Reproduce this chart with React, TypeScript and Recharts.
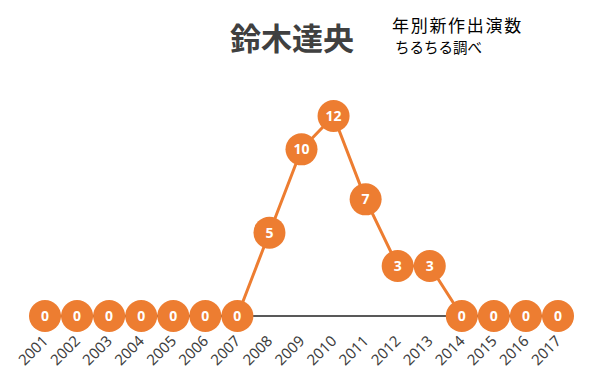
import React from 'react';
import { LineChart, Line, XAxis, YAxis } from 'recharts';

// 年別新作出演数 (ちるちる調べ)
const years = [
  '2001', '2002', '2003', '2004', '2005', '2006', '2007', '2008', '2009',
  '2010', '2011', '2012', '2013', '2014', '2015', '2016', '2017',
];
const counts = [0, 0, 0, 0, 0, 0, 0, 5, 10, 12, 7, 3, 3, 0, 0, 0, 0];

const ORANGE = '#ED7D31';
const FONT = '"Noto Sans", "Open Sans", sans-serif';
const CJK = '"Noto Sans CJK JP", sans-serif';

const data = years.map((year, i) => ({ year, count: counts[i] }));

// orange disc with the value written in it
const ValueDot = (props: any) => {
  const { cx, cy, value, index } = props;
  if (cx == null || cy == null) return null;
  return (
    <g key={`dot-${index}`}>
      <circle cx={cx} cy={cy} r={16} fill={ORANGE} />
      <text
        x={cx}
        y={cy}
        dy="0.36em"
        textAnchor="middle"
        fill="#fff"
        fontSize={14}
        fontWeight={700}
        fontFamily={FONT}
      >
        {value}
      </text>
    </g>
  );
};

const YearTick = (props: any) => {
  const { x, y, payload } = props;
  return (
    <g transform={`translate(${x + 4},${y + 18})`}>
      <text
        textAnchor="end"
        transform="rotate(-45)"
        fill="#404040"
        fontSize={15}
        fontFamily={FONT}
      >
        {payload.value}
      </text>
    </g>
  );
};

export default function App() {
  return (
    <div style={{ position: 'absolute', left: 0, top: 0, width: 596, height: 378, background: '#fff' }}>
      <svg width={596} height={70} style={{ position: 'absolute', left: 0, top: 0 }}>
        <text x={230} y={36} dominantBaseline="central" fontSize={31} fontWeight={700} fill="#404040" fontFamily={CJK}>
          鈴木達央
        </text>
        <text x={392} y={24} dominantBaseline="central" fontSize={17} letterSpacing={1.7} fill="#000" fontFamily={CJK}>
          年別新作出演数
        </text>
        <text x={395} y={46} dominantBaseline="central" fontSize={14.5} fill="#000" fontFamily={CJK}>
          ちるちる調べ
        </text>
      </svg>
      <LineChart
        width={596}
        height={378}
        data={data}
        margin={{ top: 116, right: 38, bottom: 0, left: 45 }}
      >
        <XAxis
          dataKey="year"
          scale="point"
          interval={0}
          height={62}
          tickLine={false}
          axisLine={{ stroke: '#595959', strokeWidth: 2 }}
          tick={<YearTick />}
        />
        <YAxis hide domain={[0, 12]} />
        <Line
          type="linear"
          dataKey="count"
          stroke={ORANGE}
          strokeWidth={3}
          dot={<ValueDot />}
          activeDot={false}
          isAnimationActive={false}
        />
      </LineChart>
    </div>
  );
}
